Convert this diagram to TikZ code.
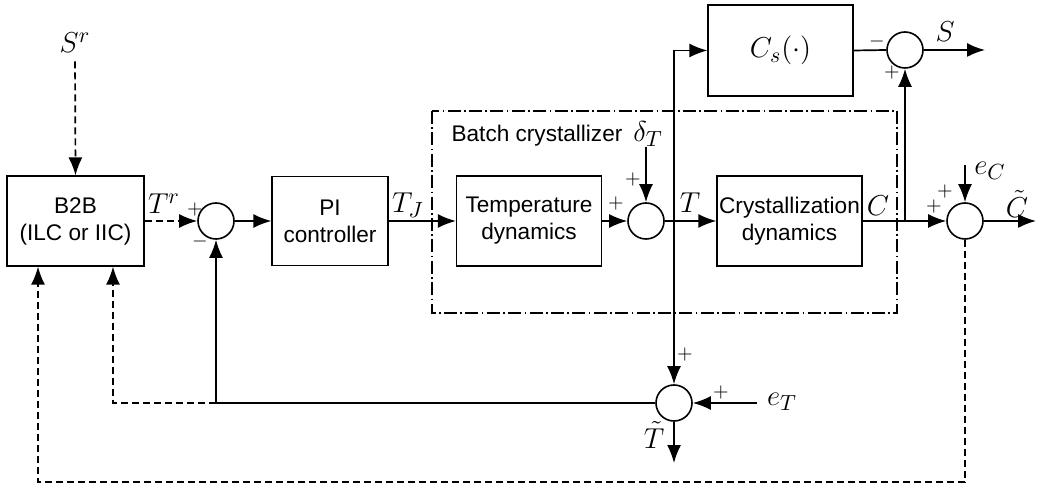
\documentclass[tikz,border=0pt]{standalone}
\usepackage{fontspec}
\setmainfont{Liberation Sans}
\usetikzlibrary{arrows.meta}
\newcommand\blkfont{\fontsize{11.3}{13.5}\selectfont}
\newcommand\mthfont{\fontsize{15}{16}\selectfont}
\newcommand\sgnfont{\fontsize{10}{11}\selectfont}
\begin{document}
\begin{tikzpicture}[x=0.5pt,y=-0.5pt,
  conn/.style={line width=0.85pt,-{Latex[length=9pt,width=7pt]}},
  ln/.style={line width=0.85pt},
  blk/.style={draw,line width=0.6pt,inner sep=0pt,align=center,font=\blkfont},
  sumc/.style={draw,circle,line width=0.8pt,minimum size=18pt,inner sep=0pt},
  dsh/.style={dash pattern=on 3.5pt off 2pt},
  dashdotbox/.style={line width=0.7pt,dash pattern=on 6.5pt off 1.7pt on 0.8pt off 1.7pt},
  lbl/.style={font=\mthfont,inner sep=0pt},
  sgn/.style={font=\sgnfont,inner sep=0pt},
]
\useasboundingbox (0,0) rectangle (1037,485);

% batch crystallizer frame
\draw[dashdotbox] (432,111) rectangle (897,313);
\node[font=\blkfont,inner sep=0pt] (bc) at (537,136) {Batch crystallizer};

% blocks
\node[blk,minimum width=68.5pt,minimum height=45pt] (b2b) at (75.5,221) {B2B\\(ILC or IIC)};
\node[blk,minimum width=58pt,minimum height=44.5pt] (pi) at (330,221) {PI\\controller};
\node[blk,minimum width=72.5pt,minimum height=45pt] (temp) at (529,221) {Temperature\\dynamics};
\node[blk,minimum width=72.5pt,minimum height=45pt] (cryst) at (789.5,221) {Crystallization\\dynamics};
\node[blk,minimum width=72.5pt,minimum height=45.5pt,font=\mthfont] (cs) at (780.5,50.5) {$C_s(\cdot)$};

% summing junctions
\node[sumc] (sum1) at (216,221) {};
\node[sumc] (sum2) at (646,221) {};
\node[sumc] (sum3) at (674,403) {};
\node[sumc] (sum4) at (965,221) {};
\node[sumc] (sumS) at (905,50) {};

% signal labels
\node[lbl] (sr) at (75,43) {$S^r$};
\node[lbl] (tr) at (164,204) {$T^r$};
\node[lbl] (tj) at (408,205) {$T_J$};
\node[lbl] (dt) at (648,134) {$\delta_T$};
\node[lbl] (tl) at (690,203) {$T$};
\node[lbl] (cl) at (878,206) {$C$};
\node[lbl] (ecl) at (990,171) {$e_C$};
\node[lbl] (ctl) at (1017,204) {$\tilde{C}$};
\node[lbl] (sl) at (945,32) {$S$};
\node[lbl] (etl) at (782,402) {$e_T$};
\node[lbl] (ttl) at (654,435) {$\tilde{T}$};

% signs
\node[sgn] at (195,210) {$+$};
\node[sgn] at (200,242) {$-$};
\node[sgn] at (633,180) {$+$};
\node[sgn] at (616,204) {$+$};
\node[sgn] at (945,192) {$+$};
\node[sgn] at (934,207) {$+$};
\node[sgn] at (877,42) {$-$};
\node[sgn] at (892,73) {$+$};
\node[sgn] at (685,355) {$+$};
\node[sgn] at (721,393) {$+$};

% coordinates
\coordinate (jT) at (674,221);
\coordinate (jC) at (905,221);
\coordinate (dT) at (646,147);
\coordinate (eC) at (965,165);
\coordinate (eT) at (757,403);
\coordinate (sOut) at (985,50);
\coordinate (cOut) at (1036,221);
\coordinate (tOut) at (674,463);
\coordinate (f1) at (216,403);
\coordinate (f2) at (113,403);
\coordinate (g1) at (965,482);
\coordinate (g2) at (38,482);

% connectors
\draw[conn,dsh,shorten <=4pt] (sr.south) -- (b2b.north);
\draw[conn,dsh] (b2b.east) -- (sum1.west);
\draw[conn] (sum1.east) -- (pi.west);
\draw[conn] (pi.east) -- (temp.west);
\draw[conn] (temp.east) -- (sum2.west);
\draw[conn] (dT) -- (sum2.north);
\draw[conn] (sum2.east) -- (cryst.west);
\draw[conn] (jT) |- (cs.west);
\draw[conn] (jT) -- (sum3.north);
\draw[conn] (cryst.east) -- (sum4.west);
\draw[conn] (jC) -- (sumS.south);
\draw[ln] (cs.east) -- (sumS.west);
\draw[conn] (sumS.east) -- (sOut);
\draw[conn] (eC) -- (sum4.north);
\draw[conn] (sum4.east) -- (cOut);
\draw[conn] (eT) -- (sum3.east);
\draw[conn] (sum3.south) -- (tOut);
\draw[ln] (sum3.west) -- (f1);
\draw[conn] (f1) -- (sum1.south);
\draw[conn,dsh] (f1) -- (f2) -- (f2 |- b2b.south);
\draw[conn,dsh] (sum4.south) -- (g1) -- (g2) -- (g2 |- b2b.south);
\end{tikzpicture}
\end{document}
